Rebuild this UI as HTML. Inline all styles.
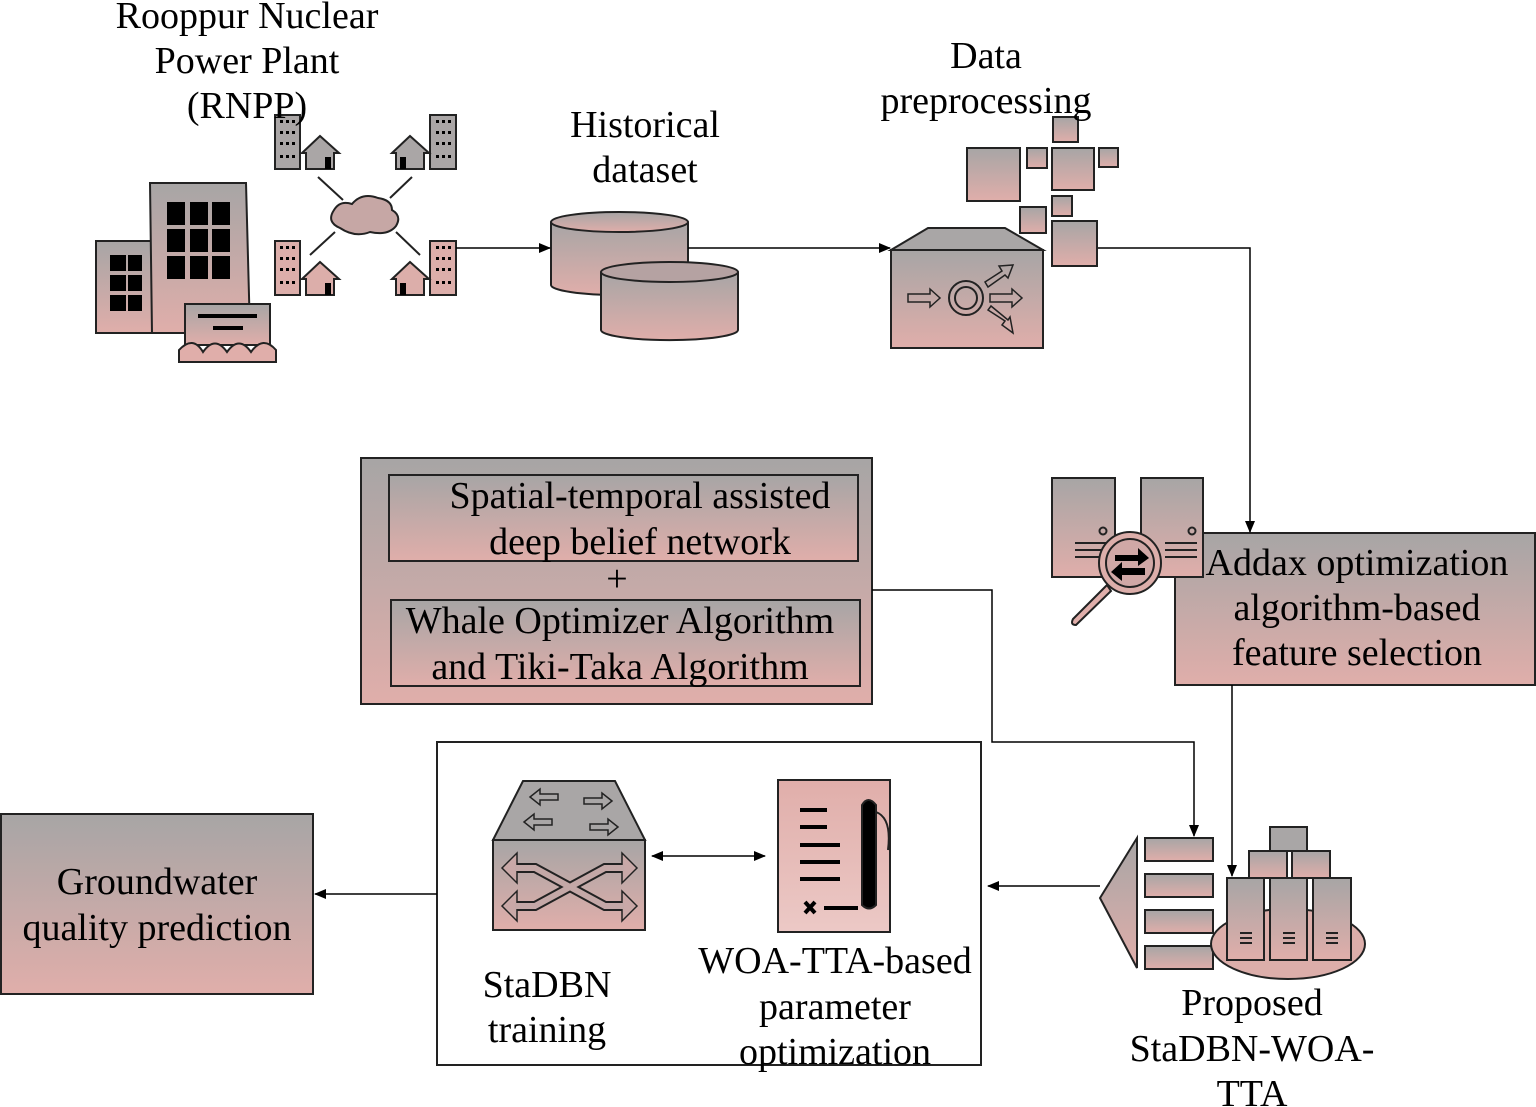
<!DOCTYPE html>
<html><head><meta charset="utf-8"><style>html,body{margin:0;padding:0;background:#fff}svg{display:block}text{font-family:"Liberation Serif",serif;font-size:38px;fill:#000;text-anchor:middle}</style></head><body>
<svg width="1536" height="1107" viewBox="0 0 1536 1107" xmlns="http://www.w3.org/2000/svg">
<defs>
<linearGradient id="g" x1="0" y1="0" x2="0" y2="1"><stop offset="0" stop-color="#a7a5a5"/><stop offset="1" stop-color="#e0aeaa"/></linearGradient>
<linearGradient id="gr" x1="0" y1="0" x2="0" y2="1"><stop offset="0" stop-color="#e0aeaa"/><stop offset="1" stop-color="#ecc9c6"/></linearGradient>
<marker id="a" markerWidth="12" markerHeight="10" refX="11" refY="5" orient="auto" markerUnits="userSpaceOnUse"><path d="M0,0 L12,5 L0,10 z" fill="#000"/></marker>
<marker id="as" markerWidth="12" markerHeight="10" refX="1" refY="5" orient="auto" markerUnits="userSpaceOnUse"><path d="M12,0 L0,5 L12,10 z" fill="#000"/></marker>
</defs>
<g stroke="#222" stroke-width="2">
<rect x="96" y="241" width="56" height="92" fill="url(#g)"/>
<path d="M150,183 L246,183 L250,333 L152,333 z" fill="url(#g)"/>
<g fill="#000" stroke="none">
<rect x="110" y="255" width="16" height="16"/><rect x="128" y="255" width="14" height="16"/>
<rect x="110" y="275" width="16" height="16"/><rect x="128" y="275" width="14" height="16"/>
<rect x="110" y="295" width="16" height="16"/><rect x="128" y="295" width="14" height="16"/>
<rect x="167" y="202" width="18" height="23"/><rect x="190" y="202" width="18" height="23"/><rect x="212" y="202" width="18" height="23"/>
<rect x="167" y="229" width="18" height="23"/><rect x="190" y="229" width="18" height="23"/><rect x="212" y="229" width="18" height="23"/>
<rect x="167" y="256" width="18" height="23"/><rect x="190" y="256" width="18" height="23"/><rect x="212" y="256" width="18" height="23"/>
</g>
<rect x="185" y="304" width="85" height="41" fill="url(#g)"/>
<path d="M179,362 L179,350 Q193,335 203,352 Q215,335 227,352 Q239,335 251,352 Q263,335 276,350 L276,362 z" fill="#e0aeaa"/>
<line x1="198" y1="316" x2="257" y2="316" stroke-width="4" stroke="#000"/>
<line x1="213" y1="328" x2="243" y2="328" stroke-width="4" stroke="#000"/>
<rect x="275" y="115" width="25" height="54" fill="#aaa6a6"/>
<rect x="430" y="115" width="26" height="54" fill="#aaa6a6"/>
<rect x="275" y="241" width="25" height="54" fill="#dcaeaa"/>
<rect x="430" y="241" width="26" height="54" fill="#dcaeaa"/>
<path d="M302,153 L320,136 L339,153 L334,153 L334,169 L306,169 L306,153 z" fill="#aaa6a6"/>
<path d="M392,153 L410,136 L429,153 L424,153 L424,169 L396,169 L396,153 z" fill="#aaa6a6"/>
<path d="M302,279 L320,262 L339,279 L334,279 L334,295 L306,295 L306,279 z" fill="#dcaeaa"/>
<path d="M392,279 L410,262 L429,279 L424,279 L424,295 L396,295 L396,279 z" fill="#dcaeaa"/>
<line x1="318" y1="177" x2="343" y2="200"/><line x1="412" y1="177" x2="390" y2="198"/>
<line x1="335" y1="232" x2="310" y2="255"/><line x1="396" y1="232" x2="420" y2="255"/>
<path d="M340,228 Q326,222 334,210 Q340,200 352,204 Q362,192 378,198 Q392,200 392,210 Q402,216 396,226 Q388,236 370,232 Q355,238 340,228 z" fill="#c6a7a5"/>
</g>
<g fill="#000">
<rect x="280" y="120" width="3" height="3"/><rect x="286" y="120" width="3" height="3"/><rect x="292" y="120" width="3" height="3"/>
<rect x="280" y="131" width="3" height="3"/><rect x="286" y="131" width="3" height="3"/><rect x="292" y="131" width="3" height="3"/>
<rect x="280" y="142" width="3" height="3"/><rect x="286" y="142" width="3" height="3"/><rect x="292" y="142" width="3" height="3"/>
<rect x="280" y="155" width="3" height="3"/><rect x="286" y="155" width="3" height="3"/><rect x="292" y="155" width="3" height="3"/>
<rect x="436" y="120" width="3" height="3"/><rect x="442" y="120" width="3" height="3"/><rect x="448" y="120" width="3" height="3"/>
<rect x="436" y="131" width="3" height="3"/><rect x="442" y="131" width="3" height="3"/><rect x="448" y="131" width="3" height="3"/>
<rect x="436" y="142" width="3" height="3"/><rect x="442" y="142" width="3" height="3"/><rect x="448" y="142" width="3" height="3"/>
<rect x="436" y="155" width="3" height="3"/><rect x="442" y="155" width="3" height="3"/><rect x="448" y="155" width="3" height="3"/>
<rect x="280" y="246" width="3" height="3"/><rect x="286" y="246" width="3" height="3"/><rect x="292" y="246" width="3" height="3"/>
<rect x="280" y="257" width="3" height="3"/><rect x="286" y="257" width="3" height="3"/><rect x="292" y="257" width="3" height="3"/>
<rect x="280" y="268" width="3" height="3"/><rect x="286" y="268" width="3" height="3"/><rect x="292" y="268" width="3" height="3"/>
<rect x="280" y="281" width="3" height="3"/><rect x="286" y="281" width="3" height="3"/><rect x="292" y="281" width="3" height="3"/>
<rect x="436" y="246" width="3" height="3"/><rect x="442" y="246" width="3" height="3"/><rect x="448" y="246" width="3" height="3"/>
<rect x="436" y="257" width="3" height="3"/><rect x="442" y="257" width="3" height="3"/><rect x="448" y="257" width="3" height="3"/>
<rect x="436" y="268" width="3" height="3"/><rect x="442" y="268" width="3" height="3"/><rect x="448" y="268" width="3" height="3"/>
<rect x="436" y="281" width="3" height="3"/><rect x="442" y="281" width="3" height="3"/><rect x="448" y="281" width="3" height="3"/>
<rect x="325" y="283" width="6" height="12"/><rect x="400" y="283" width="6" height="12"/>
<rect x="325" y="157" width="6" height="12"/><rect x="400" y="157" width="6" height="12"/>
</g>
<g stroke="#222" stroke-width="2" fill="url(#g)">
<path d="M551,222 L551,285 A68,10 0 0 0 688,285 L688,222"/>
<ellipse cx="619.5" cy="222" rx="68.5" ry="10"/>
<path d="M601,272 L601,330 A68,10 0 0 0 738,330 L738,272"/>
<ellipse cx="669.5" cy="272" rx="68.5" ry="10" fill="#b5a2a2"/>
<path d="M891,250 L928,228 L1005,228 L1043,250 z" fill="#a9a6a6"/>
<rect x="891" y="250" width="152" height="98"/>
<circle cx="966" cy="298" r="17" fill="none"/><circle cx="966" cy="298" r="11" fill="none"/>
<path d="M908,294 L930,294 L930,289 L940,298 L930,307 L930,302 L908,302 z" fill="none" stroke-width="1.5"/>
<path d="M990,294 L1012,294 L1012,289 L1022,298 L1012,307 L1012,302 L990,302 z" fill="none" stroke-width="1.5"/>
<path d="M985,282 L1002,271 L999,266 L1013,265 L1008,278 L1005,275 L988,287 z" fill="none" stroke-width="1.5"/>
<path d="M988,310 L1005,321 L1002,325 L1013,333 L1010,317 L1008,320 L991,306 z" fill="none" stroke-width="1.5"/>
<rect x="1053" y="117" width="25" height="25"/>
<rect x="967" y="148" width="53" height="53"/>
<rect x="1027" y="148" width="20" height="20"/>
<rect x="1052" y="148" width="42" height="42"/>
<rect x="1099" y="148" width="19" height="19"/>
<rect x="1052" y="196" width="20" height="20"/>
<rect x="1020" y="207" width="26" height="26"/>
<rect x="1052" y="221" width="45" height="45"/>
<rect x="1175" y="533" width="360" height="152"/>
<rect x="1052" y="478" width="63" height="99"/>
<rect x="1141" y="478" width="62" height="99"/>
<circle cx="1103" cy="531" r="3.5" fill="none"/><circle cx="1192" cy="531" r="3.5" fill="none"/>
<g stroke-width="2"><line x1="1075" y1="543" x2="1115" y2="543"/><line x1="1075" y1="550" x2="1115" y2="550"/><line x1="1075" y1="557" x2="1115" y2="557"/>
<line x1="1165" y1="543" x2="1197" y2="543"/><line x1="1165" y1="550" x2="1197" y2="550"/><line x1="1165" y1="557" x2="1197" y2="557"/></g>
<path d="M1107,585 L1073,619 Q1070,625 1076,625 L1111,591 z" fill="#e0aeaa"/>
<circle cx="1130" cy="563" r="31" fill="#dcaeaa"/>
<circle cx="1130" cy="563" r="24" fill="#d0a8a6"/>
<path d="M1115,555 L1138,555 L1138,548 L1149,558 L1138,566 L1138,561 L1115,561 z M1145,568 L1122,568 L1122,562 L1111,572 L1122,581 L1122,575 L1145,575 z" fill="#000" stroke="none"/>
<rect x="361" y="458" width="511" height="246"/>
<rect x="389" y="475" width="469" height="86"/>
<rect x="391" y="600" width="469" height="86"/>
<path d="M1137,838 L1100,898 L1137,968 z"/>
<rect x="1145" y="838" width="68" height="23"/>
<rect x="1145" y="874" width="68" height="23"/>
<rect x="1145" y="910" width="68" height="23"/>
<rect x="1145" y="946" width="68" height="23"/>
<ellipse cx="1288" cy="944" rx="77" ry="35" fill="#dcaeaa"/>
<rect x="1270" y="827" width="37" height="24" fill="#a9a6a6"/>
<rect x="1249" y="851" width="38" height="27"/>
<rect x="1292" y="851" width="38" height="27"/>
<rect x="1227" y="878" width="37" height="82"/>
<rect x="1270" y="878" width="37" height="82"/>
<rect x="1313" y="878" width="38" height="82"/>
<g stroke-width="2"><line x1="1240" y1="933" x2="1252" y2="933"/><line x1="1240" y1="938" x2="1252" y2="938"/><line x1="1240" y1="943" x2="1252" y2="943"/>
<line x1="1283" y1="933" x2="1295" y2="933"/><line x1="1283" y1="938" x2="1295" y2="938"/><line x1="1283" y1="943" x2="1295" y2="943"/>
<line x1="1326" y1="933" x2="1338" y2="933"/><line x1="1326" y1="938" x2="1338" y2="938"/><line x1="1326" y1="943" x2="1338" y2="943"/></g>
<rect x="437" y="742" width="544" height="323" fill="none"/>
<path d="M493,840 L523,781 L615,781 L645,840 z" fill="#a9a6a6"/>
<rect x="493" y="840" width="152" height="90"/>
<g fill="none" stroke-width="1.5">
<path d="M530,797 L540,789 L540,794 L558,794 L558,800 L540,800 L540,805 z"/>
<path d="M524,822 L534,814 L534,819 L552,819 L552,825 L534,825 L534,830 z"/>
<path d="M612,801 L602,793 L602,798 L584,798 L584,804 L602,804 L602,809 z"/>
<path d="M618,827 L608,819 L608,824 L590,824 L590,830 L608,830 L608,835 z"/>
</g>
</g>
<!-- switch X arrows: outlined via double stroke -->
<g fill="none" stroke-linejoin="miter">
<g stroke="#222" stroke-width="10">
<polyline points="512,868 535,868 605,906 626,906"/>
<polyline points="512,906 535,906 605,868 626,868"/>
</g>
<g stroke="#222" stroke-width="1.5" fill="#c9a8a7">
<path d="M502,868 L517,853 L517,883 z M502,906 L517,891 L517,921 z M637,868 L622,853 L622,883 z M637,906 L622,891 L622,921 z"/>
</g>
<g stroke="#c4a8a7" stroke-width="6">
<polyline points="515,868 535,868 605,906 624,906"/>
<polyline points="515,906 535,906 605,868 624,868"/>
</g>
</g>
<g stroke="#222" stroke-width="2">
<rect x="778" y="780" width="112" height="152" fill="url(#gr)"/>
<g stroke="#000" stroke-width="4"><line x1="800" y1="810" x2="827" y2="810"/><line x1="800" y1="827" x2="827" y2="827"/><line x1="800" y1="845" x2="840" y2="845"/><line x1="800" y1="862" x2="840" y2="862"/><line x1="800" y1="879" x2="840" y2="879"/><line x1="824" y1="908" x2="858" y2="908"/>
<path d="M805,902 L815,913 M815,902 L805,913"/></g>
<path d="M862,805 Q868,795 876,805 L876,905 Q869,912 862,905 z" fill="#000"/>
<path d="M876,812 Q892,818 888,850" fill="none"/>
<rect x="1" y="814" width="312" height="180" fill="url(#g)"/>
</g>
<g stroke="#000" stroke-width="1.5" fill="none">
<line x1="456" y1="248" x2="550" y2="248" marker-end="url(#a)"/>
<line x1="688" y1="248" x2="890" y2="248" marker-end="url(#a)"/>
<polyline points="1098,248 1250,248 1250,532" marker-end="url(#a)"/>
<line x1="1232" y1="685" x2="1232" y2="876" marker-end="url(#a)"/>
<polyline points="872,590 992,590 992,742 1194,742 1194,836" marker-end="url(#a)"/>
<line x1="1100" y1="886" x2="988" y2="886" marker-end="url(#a)"/>
<line x1="652" y1="856" x2="765" y2="856" marker-start="url(#as)" marker-end="url(#a)"/>
<line x1="437" y1="894" x2="315" y2="894" marker-end="url(#a)"/>
</g>
<text x="247" y="28">Rooppur Nuclear</text>
<text x="247" y="73">Power Plant</text>
<text x="247" y="118">(RNPP)</text>
<text x="645" y="137">Historical</text>
<text x="645" y="182">dataset</text>
<text x="986" y="68">Data</text>
<text x="986" y="113">preprocessing</text>
<text x="1357" y="575">Addax optimization</text>
<text x="1357" y="620">algorithm-based</text>
<text x="1357" y="665">feature selection</text>
<text x="640" y="508">Spatial-temporal assisted</text>
<text x="640" y="554">deep belief network</text>
<text x="617" y="591">+</text>
<text x="620" y="633">Whale Optimizer Algorithm</text>
<text x="620" y="679">and Tiki-Taka Algorithm</text>
<text x="547" y="997">StaDBN</text>
<text x="547" y="1042">training</text>
<text x="835" y="973">WOA-TTA-based</text>
<text x="835" y="1019">parameter</text>
<text x="835" y="1064">optimization</text>
<text x="157" y="894">Groundwater</text>
<text x="157" y="940">quality prediction</text>
<text x="1252" y="1015">Proposed</text>
<text x="1252" y="1061">StaDBN-WOA-</text>
<text x="1252" y="1106">TTA</text>
</svg>
</body></html>
